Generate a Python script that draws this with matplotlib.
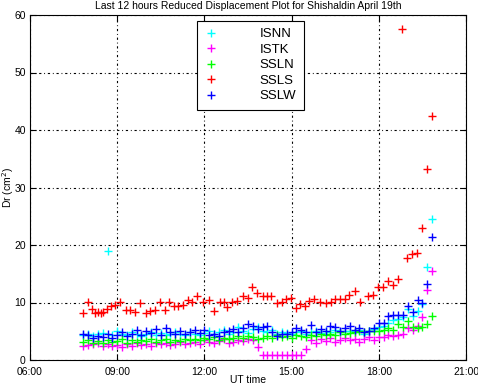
import numpy as np
import matplotlib
matplotlib.use("Agg")
import matplotlib.pyplot as plt

plt.rcParams['font.family'] = ['Liberation Sans', 'DejaVu Sans']

# common time grid: 07:50 to 19:50 every 10 minutes (hours, UT)
grid_start = 7 + 50 / 60
grid_step = 10 / 60
n_grid = 73

isnn = [4.3, 4.6, 4.2, 4.5, 4.7, 19.0, 4.4,
        5.0, 4.6, 4.3, 4.8, 4.5, 4.2,
        4.6, 4.9, 4.4, 4.7, 4.3, 4.6,
        4.8, 4.5, 4.4, 4.9, 4.6, 4.4,
        4.7, 5.0, 4.5, 4.8, 5.2, 4.6,
        4.9, 5.8, 5.1, 4.7, 5.4, 5.8,
        5.0, 4.8, 5.2, 4.6, 4.9, 4.7,
        4.5, 4.8, 5.0, 4.6, 4.9, 5.1,
        4.7, 5.0, 4.8, 5.3, 4.9, 5.1,
        5.0, 4.8, 5.2, 4.6, 5.0, 5.4,
        5.8, 6.0, 6.4, 6.9, 7.2, 7.5,
        8.8, 7.7, 8.5, 9.8, 16.1, 24.5]

istk = [2.4, 2.6, 2.7, 2.9, 2.5, 2.8, 2.4,
        2.6, 2.3, 2.7, 2.5, 2.9, 2.6,
        2.8, 2.5, 2.9, 2.7, 3.0, 2.6,
        2.8, 3.1, 2.7, 2.9, 3.2, 2.8,
        3.4, 3.1, 2.9, 3.3, 3.6, 3.0,
        3.2, 3.5, 3.3, 3.7, 3.5, 2.3,
        0.9, 0.9, 0.9, 0.9, 0.9, 0.9,
        0.9, 0.9, 0.9, 1.9, 3.4, 3.0,
        3.6, 3.3, 3.8, 3.1, 3.5, 3.9,
        3.4, 3.7, 3.2, 3.6, 4.0, 3.5,
        4.05, 4.0, 4.3, 4.1, 4.4, 4.6,
        5.6, 5.2, 6.0, 7.4, 12.1, 15.5]

ssln = [3.2, 3.5, 3.0, 3.3, 2.9, 3.4, 3.1,
        3.3, 3.6, 3.0, 3.4, 3.2, 3.5,
        3.3, 3.6, 3.1, 3.4, 3.7, 3.2,
        3.5, 3.3, 3.6, 3.4, 3.7, 3.5,
        3.8, 3.6, 4.0, 3.5, 3.9, 3.7,
        3.9, 4.1, 3.8, 4.2, 4.0, 3.7,
        3.9, 4.1, 3.8, 4.3, 4.0, 4.2,
        3.9, 4.3, 4.1, 4.0, 4.4, 4.2,
        4.5, 4.3, 4.6, 4.4, 4.8, 4.5,
        4.7, 4.9, 5.0, 4.8, 5.0, 5.1,
        5.0, 5.3, 5.5, 5.2, 6.3, 5.8,
        6.7, 5.8, 5.5, 5.8, 6.3, 7.7]

sslw = [4.6, 4.4, 3.8, 4.2, 4.0, 4.5, 3.9,
        4.3, 4.8, 4.1, 4.6, 5.2, 4.4,
        5.0, 4.7, 5.4, 4.3, 5.5, 4.9,
        4.6, 5.0, 4.5, 4.8, 5.2, 4.7,
        5.3, 4.4, 4.6, 4.2, 4.8, 5.0,
        5.4, 4.9, 5.6, 6.2, 6.0, 5.4,
        5.8, 5.9, 4.9, 4.2, 4.6, 4.5,
        4.9, 5.5, 5.3, 4.8, 6.1, 4.9,
        5.4, 5.1, 5.9, 5.7, 5.0, 5.6,
        6.0, 5.2, 5.5, 4.9, 5.1, 5.6,
        6.4, 6.4, 7.6, 7.8, 7.8, 7.9,
        9.4, 8.4, 10.5, 10.0, 13.2, 21.4]

# SSLS read at its own sample times (hours, UT)
ssls_t = [7.81, 8.01, 8.14, 8.23, 8.33, 8.43, 8.52, 8.64, 8.78, 8.92,
          9.10, 9.30, 9.44, 9.62, 9.78, 9.99, 10.13, 10.29, 10.47, 10.63,
          10.79, 10.96, 11.10, 11.27, 11.45, 11.58, 11.76, 11.96, 12.15, 12.33,
          12.54, 12.67, 12.77, 12.94, 13.13, 13.32, 13.51, 13.64, 13.82, 14.00,
          14.14, 14.29, 14.49, 14.66, 14.81, 14.97, 15.15, 15.29, 15.46, 15.61,
          15.78, 15.98, 16.18, 16.35, 16.50, 16.66, 16.84, 16.98, 17.18, 17.35,
          17.64, 17.81, 17.98, 18.15, 18.30, 18.50, 18.65, 18.80, 18.96, 19.13,
          19.32, 19.50, 19.67, 19.84]
ssls = [8.12, 10.03, 8.82, 8.12, 8.30, 8.23, 8.35, 8.82, 9.44, 9.57,
        10.03, 8.70, 8.70, 8.40, 9.86, 8.23, 8.57, 8.70, 10.03, 8.70,
        10.03, 9.39, 9.39, 9.62, 10.43, 10.03, 11.18, 10.14, 10.43, 8.47,
        10.14, 10.03, 9.27, 10.03, 10.26, 11.18, 10.73, 12.75, 11.70, 11.13,
        11.13, 11.13, 9.86, 10.14, 10.56, 10.78, 8.99, 9.74, 9.39, 10.31,
        10.56, 10.14, 9.86, 10.09, 10.56, 10.56, 10.61, 11.30, 12.05, 10.14,
        11.13, 11.30, 12.64, 12.64, 13.79, 13.04, 14.03, 57.5, 17.69, 18.38,
        18.56, 22.90, 33.2, 42.4]

stations = ['ISNN', 'ISTK', 'SSLN', 'SSLS', 'SSLW']
colors = ['#00ffff', '#ff00ff', '#00ff00', '#ff0000', '#0000ff']

xticks = [6, 9, 12, 15, 18, 21]
xticklabels = ['06:00', '09:00', '12:00', '15:00', '18:00', '21:00']
yticks = [0, 10, 20, 30, 40, 50, 60]

grid_t = grid_start + grid_step * np.arange(n_grid)
series = {
    'ISNN': (grid_t, isnn),
    'ISTK': (grid_t, istk),
    'SSLN': (grid_t, ssln),
    'SSLS': (np.array(ssls_t), ssls),
    'SSLW': (grid_t, sslw),
}

fig = plt.figure(figsize=(4.78, 3.84), dpi=100)
ax = fig.add_axes([30 / 478, 24 / 384, 436 / 478, 345 / 384])

for name, c in zip(stations, colors):
    t, v = series[name]
    ax.plot(t, v, linestyle='none', marker='+', color=c, markersize=6,
            markeredgewidth=1.0, label=name)

ax.set_xlim(6, 21)
ax.set_ylim(0, 60)
ax.set_xticks(xticks)
ax.set_xticklabels(xticklabels)
ax.set_yticks(yticks)
ax.tick_params(direction='in', top=True, right=True, labelsize=7.5, length=4,
               width=0.8, pad=3)
ax.tick_params(axis='x', pad=5)
ax.grid(True, color='black', linestyle=(0, (2, 2.5, 0.8, 2.5)), linewidth=0.8)
for s in ax.spines.values():
    s.set_linewidth(0.8)

ax.set_title('Last 12 hours Reduced Displacement Plot for Shishaldin April 19th',
             fontsize=7.5, pad=4)
ax.set_xlabel('UT time', fontsize=7.5)
ax.xaxis.set_label_coords(0.5, -0.043)
ax.xaxis.label.set_va('top')
ax.set_ylabel('Dr (cm$^2$)', fontsize=7.5)
ax.yaxis.set_label_coords(-0.033, 0.5)

leg = ax.legend(loc='upper left', bbox_to_anchor=(0.383, 0.983), fontsize=9.5,
                frameon=True, fancybox=False, edgecolor='black', framealpha=1,
                handlelength=1.0, handletextpad=3.2, borderpad=0.55,
                labelspacing=0.25, borderaxespad=0)
leg.get_frame().set_linewidth(0.8)

fig.savefig('out.png', dpi=100)
